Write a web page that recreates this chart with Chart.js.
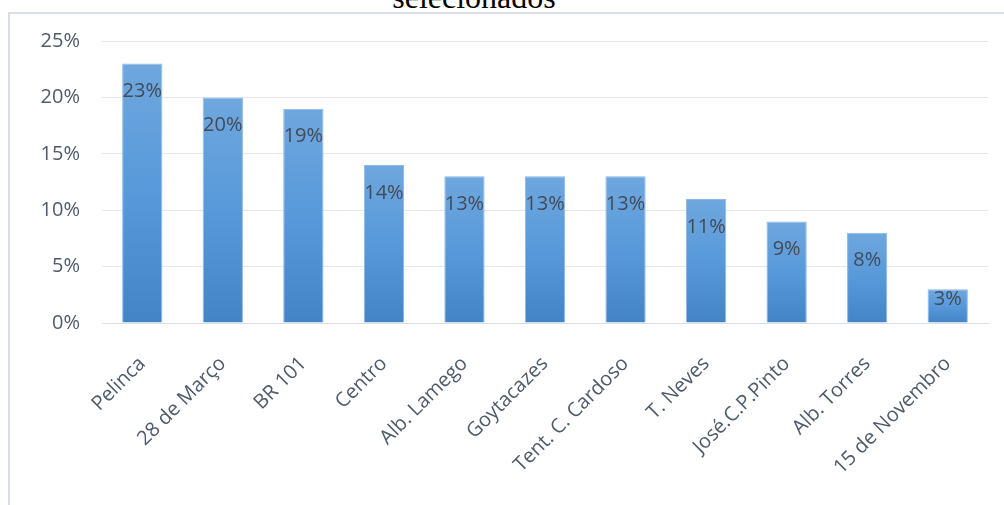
<!DOCTYPE html>
<html>
<head>
<meta charset="utf-8">
<script src="https://cdn.jsdelivr.net/npm/chart.js@4"></script>
<style>
  body { margin: 0; background: #fff; width: 1004px; height: 505px; overflow: hidden; position: relative; }
  #titulo { position: absolute; left: 0; width: 948px; top: -21px; text-align: center;
    font-family: "Liberation Serif", serif; font-size: 32px; color: #000; }
  #marco { position: absolute; left: 8px; top: 12px; width: 994px; height: 491px;
    border-left: 2px solid #dadde3; border-top: 2px solid #dadde3; }
</style>
</head>
<body>
<div id="titulo">selecionados</div>
<div id="marco"><canvas id="myChart" width="994" height="491"></canvas></div>
<script>
var bairros = ['Pelinca', '28 de Março', 'BR 101', 'Centro', 'Alb. Lamego', 'Goytacazes',
  'Tent. C. Cardoso', 'T. Neves', 'José.C.P.Pinto', 'Alb. Torres', '15 de Novembro'];
var porcentagens = [23, 20, 19, 14, 13, 13, 13, 11, 9, 8, 3];
var ticksY = [0, 5, 10, 15, 20, 25];

var fonte = '"Open Sans", Lato, sans-serif'

// gradiente de cada barra, do topo até a base
function corBarra(context) {
  const chart = context.chart
  const y = chart.scales.y
  if (!y || context.raw == null) return '#5598d9'
  var topo = y.getPixelForValue(context.raw)
  var base = y.getPixelForValue(0)
  if (!isFinite(topo) || !isFinite(base) || topo === base) return '#5598d9'
  var g = chart.ctx.createLinearGradient(0, topo, 0, base)
  g.addColorStop(0, '#6fa7de')
  g.addColorStop(0.5, '#5799da')
  g.addColorStop(1, '#4384c6')
  return g
}

// rótulos dentro da barra, perto do topo
const rotulosPlugin = {
  id: 'rotulos',
  afterDatasetsDraw(chart) {
    const ctx = chart.ctx
    ctx.save()
    ctx.font = '20px ' + fonte
    ctx.fillStyle = '#434b57'
    ctx.textAlign = 'center'
    ctx.textBaseline = 'middle'
    chart.getDatasetMeta(0).data.forEach((bar, i) => {
      var y = Math.min(bar.y + 28, bar.base - 23)
      ctx.fillText(porcentagens[i] + '%', bar.x, y)
    })
    ctx.restore()
  }
}

var canvas1 = document.getElementById('myChart')
var myChart = new Chart(canvas1, {
  type: 'bar',
  data: {
    labels: bairros,
    datasets: [{
      data: porcentagens,
      backgroundColor: corBarra,
      borderColor: '#8bb8e6',
      borderWidth: 1,
      barPercentage: 0.5,
      categoryPercentage: 1
    }]
  },
  options: {
    responsive: false,
    animation: false,
    layout: { padding: { top: 27, right: 16, left: 0, bottom: 0 } },
    plugins: { legend: { display: false }, tooltip: { enabled: false } },
    scales: {
      x: {
        grid: { display: false, drawTicks: false },
        border: { color: '#d9dde4', width: 1 },
        ticks: {
          color: '#4f5b6b',
          font: { family: fonte, size: 20 },
          maxRotation: 45, minRotation: 45,
          padding: 29
        },
        afterFit: scale => { scale.height = 182 }
      },
      y: {
        min: 0, max: 25,
        afterBuildTicks: scale => { scale.ticks = ticksY.map(v => ({ value: v })) },
        grid: { color: '#e3e6eb', drawTicks: false },
        border: { display: false },
        ticks: {
          color: '#4f5b6b',
          font: { family: fonte, size: 20 },
          padding: 22,
          callback: v => v + '%'
        },
        afterFit: scale => {
          scale.width = 92
          scale.paddingTop = 0
          scale.paddingBottom = 0
        }
      }
    }
  },
  plugins: [rotulosPlugin]
});
</script>
</body>
</html>
